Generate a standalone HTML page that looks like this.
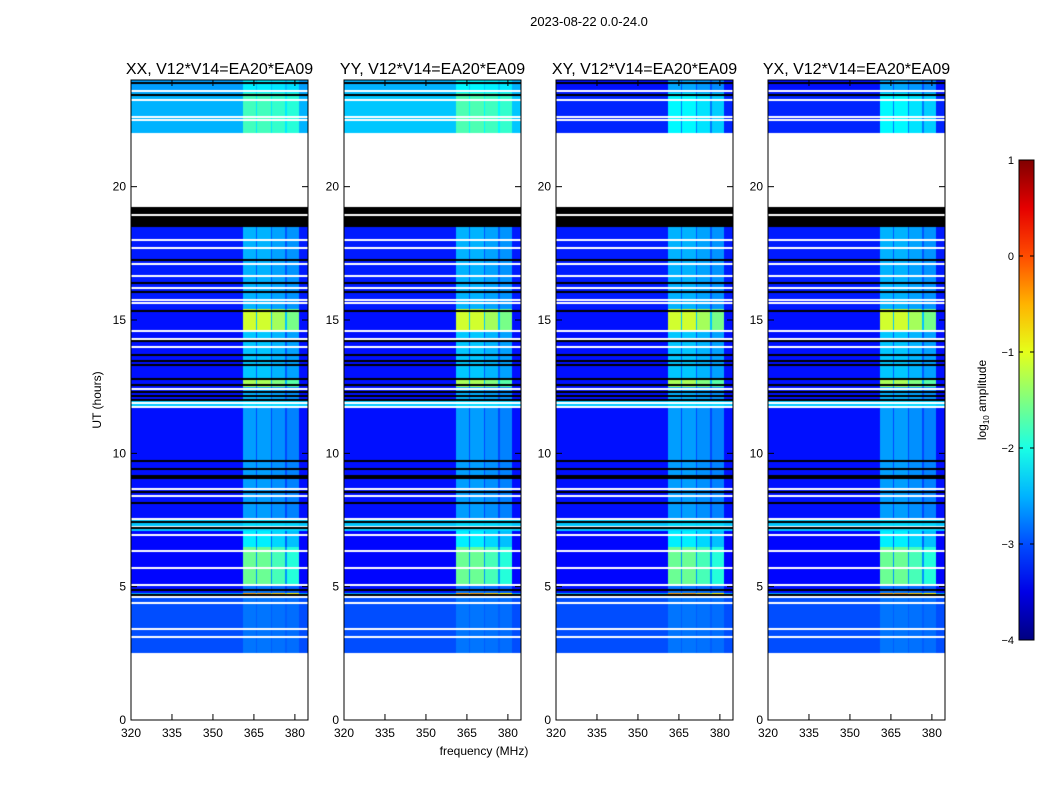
<!DOCTYPE html>
<html><head><meta charset="utf-8"><style>
body{margin:0;background:#fff;width:1050px;height:800px;position:relative;overflow:hidden;font-family:"Liberation Sans",sans-serif}
canvas{position:absolute}
svg{position:absolute;left:0;top:0}
</style></head><body>
<div id="wrap"></div>
<svg id="ov" width="1050" height="800"></svg>
<script>
// ---- data ----
const panelTitles = ["XX, V12*V14=EA20*EA09","YY, V12*V14=EA20*EA09","XY, V12*V14=EA20*EA09","YX, V12*V14=EA20*EA09"];
const topLevels = [-2.5,-2.4,-3.2,-3.2];
const segStart = [2.5,4.6,4.75,5.1,6.5,7.1,7.5,9.5,11.7,11.95,12.5,12.75,14.6,15.4,22,23.5];
const segEnd   = [4.6,4.75,5.1,6.5,7.1,7.5,9.5,11.7,11.95,12.5,12.75,14.6,15.4,18.5,23.5,24];
const segBase  = [-3.0,-2.5,-3.3,-3.35,-3.35,-2.4,-3.3,-3.3,-2.4,-3.3,-3.3,-3.3,-3.3,-3.25,-2.5,-2.6];
const segBand  = [-2.8,-0.4,-2.8,-1.6,-2.2,-2.3,-2.6,-2.6,-2.3,-2.5,-1.3,-2.4,-1.1,-2.5,-1.8,-2.2];
const bandStart = [361,366.2,371.7,377];
const bandEnd   = [365.8,371.2,376.5,381.4];
const bandWeight = [1,1,0.9,0.8];
const blackBlocks = [[18.5,19.25]];
const whiteLines = [23.6,23.25,22.6,22.5,18.95,18,17.7,17.1,16.65,16.2,15.75,15.65,14.6,14.3,14.0,12.4,11.9,11.75,8.65,8.4,7.55,7.25,6.95,6.35,5.7,5.05,4.6,4.4,3.4,3.1];
const blackLines = [23.9,23.45,17.25,16.4,16.05,15.35,14.2,13.7,13.45,13.3,12.8,12.55,12.3,12.15,12.0,9.7,9.4,9.15,9.07,8.55,8.15,7.42,7.2,4.87,4.7];
const xTicks = [320,335,350,365,380];
const yTicks = [0,5,10,15,20];
const cbTicks = [1,0,-1,-2,-3,-4];
// ---- layout ----
const lefts=[131,344,556,768], PW=177, PT=80, PH=640, F0=320, F1=384.8, H1=24;
const vmin=-4, vmax=1;
const xs=(l,f)=>l+(f-F0)/(F1-F0)*PW;
const ys=h=>PT+PH-(h/H1)*PH;
function clamp(v){return Math.max(0,Math.min(1,v));}
function jet(t){t=clamp(t);return [clamp(1.5-Math.abs(4*t-3)),clamp(1.5-Math.abs(4*t-2)),clamp(1.5-Math.abs(4*t-1))].map(c=>Math.round(c*255));}
function value(p,h,f){
  for(const b of blackBlocks) if(h>=b[0]&&h<b[1]) return 'k';
  let idx=-1;
  for(let i=0;i<segStart.length;i++) if(h>=segStart[i]&&h<segEnd[i]){idx=i;break;}
  if(idx<0) return null;
  let base=segBase[idx], band=segBand[idx];
  if(segStart[idx]>=22){const d=topLevels[p]-(-2.5);base+=d;band+=d*0.5;}
  let w=0;
  if(f>=bandStart[0]&&f<=bandEnd[bandEnd.length-1]){w=0.4;for(let i=0;i<bandStart.length;i++) if(f>=bandStart[i]&&f<=bandEnd[i]) w=bandWeight[i];}
  return base+(band-base)*w;
}
const wrap=document.getElementById('wrap');
const ov=document.getElementById('ov');
const NS="http://www.w3.org/2000/svg";
function mk(tag,attrs,txt){const e=document.createElementNS(NS,tag);for(const k in attrs)e.setAttribute(k,attrs[k]);if(txt!=null)e.textContent=txt;ov.appendChild(e);return e;}
lefts.forEach((l,p)=>{
  const c=document.createElement('canvas');c.width=PW;c.height=PH;c.style.left=l+'px';c.style.top=PT+'px';
  
  
  wrap.appendChild(c);
  const ctx=c.getContext('2d');const img=ctx.createImageData(PW,PH);
  for(let y=0;y<PH;y++){const h=(PH-y-0.5)/PH*H1;
    for(let x=0;x<PW;x++){const f=F0+(x+0.5)/PW*(F1-F0);const v=value(p,h,f);const o=(y*PW+x)*4;
      let col;if(v===null)col=[255,255,255];else if(v==='k')col=[0,0,0];else col=jet((v-vmin)/(vmax-vmin));
      img.data[o]=col[0];img.data[o+1]=col[1];img.data[o+2]=col[2];img.data[o+3]=255;}}
  ctx.putImageData(img,0,0);
  ctx.fillStyle='#fff';whiteLines.forEach(h=>{ctx.fillRect(0,Math.round(PH-h/H1*PH)-1,PW,2);});
  ctx.fillStyle='#000';blackLines.forEach(h=>{ctx.fillRect(0,Math.round(PH-h/H1*PH)-1,PW,2);});
  const fr=mk('rect',{x:l,y:PT,width:PW,height:PH,fill:'none',stroke:'#000','stroke-width':1});
  
  const t=mk('text',{x:l+PW/2,y:74,'text-anchor':'middle','font-size':16},panelTitles[p]);
  
  yTicks.forEach(v=>{const y=ys(v);
    mk('line',{x1:l,x2:l+6,y1:y,y2:y,stroke:'#000'});mk('line',{x1:l+PW,x2:l+PW-6,y1:y,y2:y,stroke:'#000'});
    const tl=mk('text',{x:l-5,y:y+4,'text-anchor':'end','font-size':12},v);
    });
  xTicks.forEach(v=>{const x=xs(l,v);
    mk('line',{x1:x,x2:x,y1:PT+PH,y2:PT+PH-6,stroke:'#000'});mk('line',{x1:x,x2:x,y1:PT,y2:PT+6,stroke:'#000'});
    const tl=mk('text',{x:x,y:737,'text-anchor':'middle','font-size':12},v);
    });
});
let e;
e=mk('text',{x:589,y:26,'text-anchor':'middle','font-size':13},'2023-08-22 0.0-24.0');

e=mk('text',{x:484,y:755,'text-anchor':'middle','font-size':12},'frequency (MHz)');

e=mk('text',{x:101,y:400,'text-anchor':'middle','font-size':12,transform:'rotate(-90 101 400)'},'UT (hours)');

const defs=mk('defs',{});const g=document.createElementNS(NS,'linearGradient');g.setAttribute('id','jet');g.setAttribute('x1','0');g.setAttribute('y1','1');g.setAttribute('x2','0');g.setAttribute('y2','0');defs.appendChild(g);
for(let i=0;i<=10;i++){const c=jet(i/10);const s=document.createElementNS(NS,'stop');s.setAttribute('offset',i/10);s.setAttribute('stop-color','rgb('+c.join(',')+')');g.appendChild(s);}
e=mk('rect',{x:1019,y:160,width:15,height:480,fill:'url(#jet)',stroke:'#000'});

cbTicks.forEach(v=>{const y=160+(vmax-v)/(vmax-vmin)*480;
  mk('line',{x1:1019,x2:1023,y1:y,y2:y,stroke:'#000'});mk('line',{x1:1034,x2:1030,y1:y,y2:y,stroke:'#000'});
  const tl=mk('text',{x:1014,y:y+4,'text-anchor':'end','font-size':11},v<0?'\u2212'+(-v):v);
  });
e=mk('text',{x:986,y:400,'text-anchor':'middle','font-size':12,transform:'rotate(-90 986 400)'});
e.innerHTML='log<tspan font-size="8" dy="3">10</tspan><tspan dy="-3"> amplitude</tspan>';

</script>
</body></html>
